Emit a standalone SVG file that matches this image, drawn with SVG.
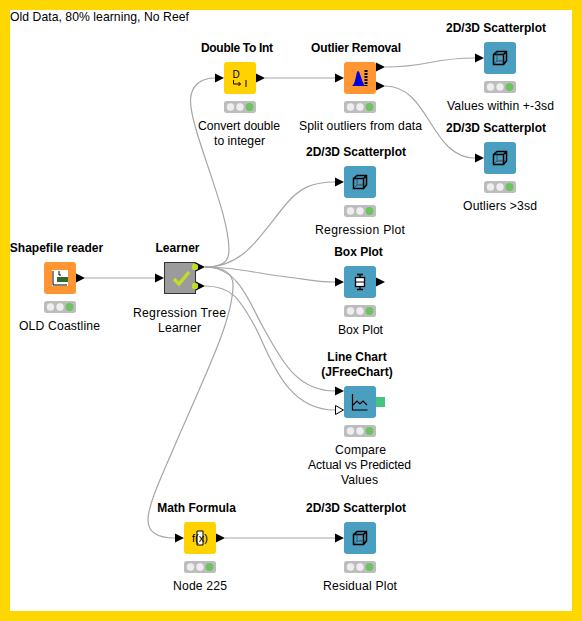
<svg xmlns="http://www.w3.org/2000/svg" width="582" height="621" viewBox="0 0 582 621">
<style>
text{font-family:"Liberation Sans",Arial,sans-serif;font-size:12.2px;fill:#000;text-anchor:middle}
.t{font-weight:bold;font-size:12px}
.c{fill:none;stroke:#a6a6a6;stroke-width:1.2}
.s{fill:#bdbdbd}
.l{fill:#eeeeee}
.g{fill:#6cc35f}
.o{fill:#ff9632}
.y{fill:#ffd200}
.b{fill:#4a9fc0}
</style>
<defs>
<polygon id="p" points="0,-4.5 9,0 0,4.5" fill="#000"/>
<g id="st"><rect class="s" width="32" height="12" rx="2.5"/><circle class="l" cx="6.5" cy="6" r="3.7"/><circle class="l" cx="16" cy="6" r="3.7"/><circle class="g" cx="25.5" cy="6" r="3.9"/></g>
<g id="cube"><path d="M-6.500,-3.500H3.500V6.500H-6.500ZM-6.500,-3.500L-3,-6.500H6.500V3L3.500,6.500M3.500,-3.500L6.500,-6.500" fill="none" stroke="#000" stroke-width="1.500"/><path d="M-3,-6.500V3H6.500M-3,3L-6.500,6.500" fill="none" stroke="#234" stroke-width="0.700"/><circle cx="0.500" cy="2.500" r="0.800" fill="#e02020"/><circle cx="2.500" cy="-2.500" r="0.800" fill="#e02020"/></g>
</defs>
<rect width="582" height="621" fill="#ffd700"/>
<rect x="10" y="10" width="562" height="601" fill="#fff"/>
<text x="10" y="21" textLength="179" style="text-anchor:start">Old Data, 80% learning, No Reef</text>
<g id="connectors">
<path class="c" d="M85,278H155"/>
<path class="c" d="M265,78H335"/>
<path class="c" d="M225,538H335"/>
<path class="c" d="M205,267C222,267 229,262 229,250C229,210 190,130 190.500,100C191,86 200,78 215,78"/>
<path class="c" d="M205,267C245,267 260,235 287,203C300,188 312,182 335,182"/>
<path class="c" d="M205,267C235,267 260,274 287,277C305,279 315,282 335,282"/>
<path class="c" d="M205,267C240,267 250,305 263,327C280,357 295,391 335,391"/>
<path class="c" d="M205,286C232,286 240,300 253,323C268,348 282,410 335,410"/>
<path class="c" d="M205,267C222,267 233,272 233,285C233,320 205,375 175,445C160,480 148,505 148,520C148,532 158,538 175,538"/>
<path class="c" d="M385,67C430,67 430,58 475,58"/>
<path class="c" d="M385,86C430,86 430,158 475,158"/>
</g>
<g id="shapefile-reader"><rect class="o" x="44" y="262" width="32" height="32" rx="3"/><rect x="52" y="270" width="16" height="16" fill="#fff"/><path d="M53,271V285H67" fill="none" stroke="#000"/><rect x="57" y="277" width="11" height="5" fill="#2f6b2f"/><path d="M59,271v4h2" fill="none" stroke="#000"/><use href="#p" x="76" y="278"/><use href="#st" x="44" y="301"/><text class="t" x="56.500" y="252">Shapefile reader</text><text x="59.500" y="330" textLength="81">OLD Coastline</text></g>
<g id="learner"><rect x="164.500" y="262.500" width="31" height="31" fill="#9b9b9b" stroke="#333"/><path d="M174,279l5,5l10,-12" fill="none" stroke="#c4dc28" stroke-width="3.500"/><use href="#p" x="196" y="267"/><use href="#p" x="196" y="286"/><use href="#p" x="155" y="278"/><circle cx="195" cy="267" r="3.200" fill="#c4dc28"/><circle cx="195" cy="286" r="3.200" fill="#c4dc28"/><text class="t" x="177.500" y="252">Learner</text><text x="179.500" y="317" textLength="93">Regression Tree</text><text x="179.500" y="332" textLength="43">Learner</text></g>
<g id="double-to-int"><rect class="y" x="224" y="62" width="32" height="32" rx="3"/><text x="236" y="78" style="font-size:10px">D</text><path d="M233.500,80v4h7m-2,-2l2,2l-2,2M246,80v7" fill="none" stroke="#000"/><use href="#p" x="215" y="78"/><use href="#p" x="256" y="78"/><use href="#st" x="224" y="101"/><text class="t" x="237" y="52" textLength="72">Double To Int</text><text x="239" y="130" textLength="82">Convert double</text><text x="239.500" y="145" textLength="51">to integer</text></g>
<g id="outlier-removal"><rect class="o" x="344" y="62" width="32" height="32" rx="3"/><path d="M352,86C356,84 356,71 358,71C360,71 361,80 365,86Z" fill="#0000e0"/><path d="M366,70V86" stroke="#000" stroke-width="3" stroke-dasharray="2 1" fill="none"/><use href="#p" x="335" y="78"/><use href="#p" x="376" y="67"/><use href="#p" x="376" y="86"/><use href="#st" x="344" y="101"/><text class="t" x="356" y="52" textLength="90">Outlier Removal</text><text x="360.500" y="130" textLength="123">Split outliers from data</text></g>
<g id="scatter-within"><rect class="b" x="484" y="42" width="32" height="32" rx="3"/><use href="#cube" x="500" y="58"/><use href="#p" x="475" y="58"/><use href="#st" x="484" y="81"/><text class="t" x="496" y="32">2D/3D Scatterplot</text><text x="500.500" y="110" textLength="107">Values within +-3sd</text></g>
<g id="scatter-outliers"><rect class="b" x="484" y="142" width="32" height="32" rx="3"/><use href="#cube" x="500" y="158"/><use href="#p" x="475" y="158"/><use href="#st" x="484" y="181"/><text class="t" x="496" y="132">2D/3D Scatterplot</text><text x="500" y="210" textLength="74">Outliers &gt;3sd</text></g>
<g id="scatter-regression"><rect class="b" x="344" y="166" width="32" height="32" rx="3"/><use href="#cube" x="360" y="182"/><use href="#p" x="335" y="182"/><use href="#st" x="344" y="205"/><text class="t" x="356" y="156">2D/3D Scatterplot</text><text x="360" y="234" textLength="90">Regression Plot</text></g>
<g id="box-plot"><rect class="b" x="344" y="266" width="32" height="32" rx="3"/><path d="M357,274.500h6M360,274.500v3M360,286.500v3M357,289.500h6" fill="none" stroke="#000" stroke-width="1.300"/><rect x="355.500" y="277.500" width="9" height="9" fill="#fff" stroke="#000" stroke-width="1.300"/><path d="M355.500,282h9" stroke="#000"/><use href="#p" x="335" y="282"/><use href="#p" x="376" y="282"/><use href="#st" x="344" y="305"/><text class="t" x="358.500" y="256">Box Plot</text><text x="360.500" y="334" textLength="45">Box Plot</text></g>
<g id="line-chart"><rect class="b" x="344" y="386" width="32" height="32" rx="3"/><path d="M352.500,394v16h15M353,405l4,-4l3,3l3,-3l4,4" fill="none" stroke="#000" stroke-width="1.200"/><rect x="376" y="397" width="9" height="10" fill="#45c47b"/><use href="#p" x="335" y="391"/><polygon points="335.500,405.500 343.500,410 335.500,414.500" fill="#fff" stroke="#000"/><use href="#st" x="344" y="425"/><text class="t" x="357" y="361">Line Chart</text><text class="t" x="357" y="376">(JFreeChart)</text><text x="360.500" y="454" textLength="51">Compare</text><text x="359.500" y="469" textLength="103">Actual vs Predicted</text><text x="359.500" y="484" textLength="37">Values</text></g>
<g id="math-formula"><rect class="y" x="184" y="522" width="32" height="32" rx="3"/><path d="M200,531h-3v14h3M200,531h3v14h-3" fill="#fff" stroke="#000"/><text x="200" y="542" style="font-size:11px">f(x)</text><use href="#p" x="175" y="538"/><use href="#p" x="216" y="538"/><use href="#st" x="184" y="561"/><text class="t" x="196.500" y="512">Math Formula</text><text x="200" y="590" textLength="54">Node 225</text></g>
<g id="scatter-residual"><rect class="b" x="344" y="522" width="32" height="32" rx="3"/><use href="#cube" x="360" y="538"/><use href="#p" x="335" y="538"/><use href="#st" x="344" y="561"/><text class="t" x="356" y="512">2D/3D Scatterplot</text><text x="360" y="590" textLength="74">Residual Plot</text></g>
</svg>
